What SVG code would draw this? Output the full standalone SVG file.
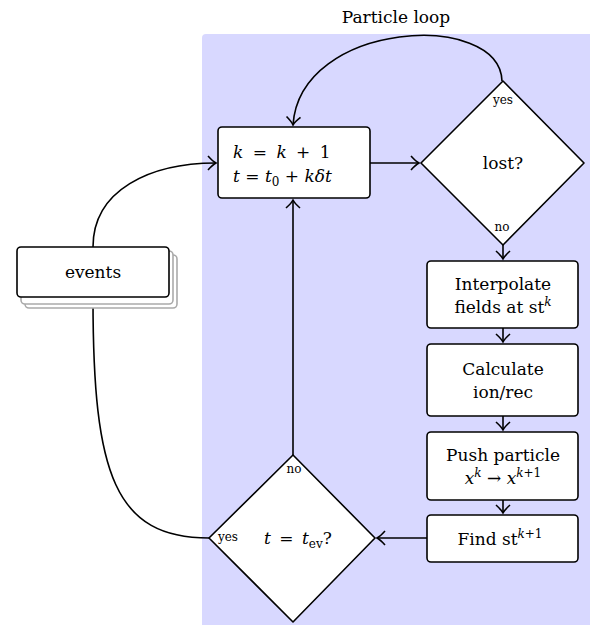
<svg xmlns="http://www.w3.org/2000/svg" width="590" height="625" viewBox="0 0 590 625" font-family="'DejaVu Serif', 'Liberation Serif', serif">
<style>
text{font-family:"DejaVu Serif","Liberation Serif",serif;fill:#000;}
.t{font-size:17px;text-anchor:middle;}
.s{font-size:12px;text-anchor:middle;}
.i{font-style:italic;}
.box{fill:#fff;stroke:#000;stroke-width:1.6;}
.sh{fill:#fff;stroke:#aaa;stroke-width:1.6;}
.c{fill:none;stroke:#000;stroke-width:1.6;}
</style>
<defs>
<marker id="a" viewBox="-10 -8 12 16" markerWidth="12" markerHeight="16" refX="0" refY="0" orient="auto" markerUnits="userSpaceOnUse">
<path d="M-8,-7 Q-3,-1.5 0,0 Q-3,1.5 -8,7" fill="none" stroke="#000" stroke-width="1.6"/>
</marker>
</defs>
<rect x="0" y="0" width="590" height="625" fill="#fff"/>
<g id="loop">
<path d="M206,34 H590 V625 H202 V38 Q202,34 206,34 Z" fill="#d8d8ff"/>
<text class="t" x="396" y="23">Particle loop</text>
</g>
<g id="connectors">
<path class="c" d="M93,247 C93,190 150,163 216,163" marker-end="url(#a)"/>
<path class="c" d="M209,538 C115,538 93,475 93,299" marker-end="url(#a)"/>
<path class="c" d="M370,163 H419" marker-end="url(#a)"/>
<path class="c" d="M502,81 C500,10 300,20 293,125" marker-end="url(#a)"/>
<path class="c" d="M503,245 V259" marker-end="url(#a)"/>
<path class="c" d="M503,328 V342" marker-end="url(#a)"/>
<path class="c" d="M503,416 V430" marker-end="url(#a)"/>
<path class="c" d="M503,500 V513" marker-end="url(#a)"/>
<path class="c" d="M427,538 H377" marker-end="url(#a)"/>
<path class="c" d="M293,455 V200" marker-end="url(#a)"/>
</g>
<g id="events">
<rect class="sh" x="25" y="255" width="152" height="53" rx="4"/>
<rect class="sh" x="21" y="251" width="152" height="53" rx="4"/>
<rect class="box" x="17" y="247" width="152" height="50" rx="4"/>
<text class="t" x="93" y="278">events</text>
</g>
<g id="step">
<rect class="box" x="218" y="127" width="152" height="71" rx="4"/>
<text class="t" x="233" y="158" style="text-anchor:start" word-spacing="4"><tspan class="i">k</tspan> = <tspan class="i">k</tspan> + 1</text>
<text class="t" x="233" y="182" style="text-anchor:start"><tspan class="i">t</tspan> = <tspan class="i">t</tspan><tspan font-size="12" dy="4">0</tspan><tspan dy="-4"> + </tspan><tspan class="i">kδt</tspan></text>
</g>
<g id="lost">
<path class="box" stroke-linejoin="round" d="M503,81 L584,163 L503,245 L421,163 Z"/>
<text class="t" x="503" y="169">lost?</text>
<text class="s" x="503" y="104">yes</text>
<text class="s" x="502" y="231">no</text>
</g>
<g id="interp">
<rect class="box" x="427" y="261" width="151" height="67" rx="4"/>
<text class="t" x="503" y="290">Interpolate</text>
<text class="t" x="503" y="313">fields at st<tspan class="i" font-size="12" dy="-7">k</tspan></text>
</g>
<g id="calc">
<rect class="box" x="427" y="344" width="151" height="72" rx="4"/>
<text class="t" x="503" y="375">Calculate</text>
<text class="t" x="503" y="398">ion/rec</text>
</g>
<g id="push">
<rect class="box" x="427" y="432" width="151" height="68" rx="4"/>
<text class="t" x="503" y="461">Push particle</text>
<text class="t" x="503" y="484"><tspan class="i">x</tspan><tspan class="i" font-size="12" dy="-7">k</tspan><tspan dy="7"> → </tspan><tspan class="i">x</tspan><tspan class="i" font-size="12" dy="-7">k</tspan><tspan font-size="12">+1</tspan></text>
</g>
<g id="find">
<rect class="box" x="427" y="515" width="151" height="47" rx="4"/>
<text class="t" x="500" y="545">Find st<tspan class="i" font-size="12" dy="-7">k</tspan><tspan font-size="12">+1</tspan></text>
</g>
<g id="tev">
<path class="box" stroke-linejoin="round" d="M293,455 L375,538 L293,622 L209,538 Z"/>
<text class="t" x="298" y="544" word-spacing="3"><tspan class="i">t</tspan> = <tspan class="i">t</tspan><tspan font-size="12" dy="4">ev</tspan><tspan dy="-4">?</tspan></text>
<text class="s" x="228" y="541">yes</text>
<text class="s" x="294" y="473">no</text>
</g>
</svg>
